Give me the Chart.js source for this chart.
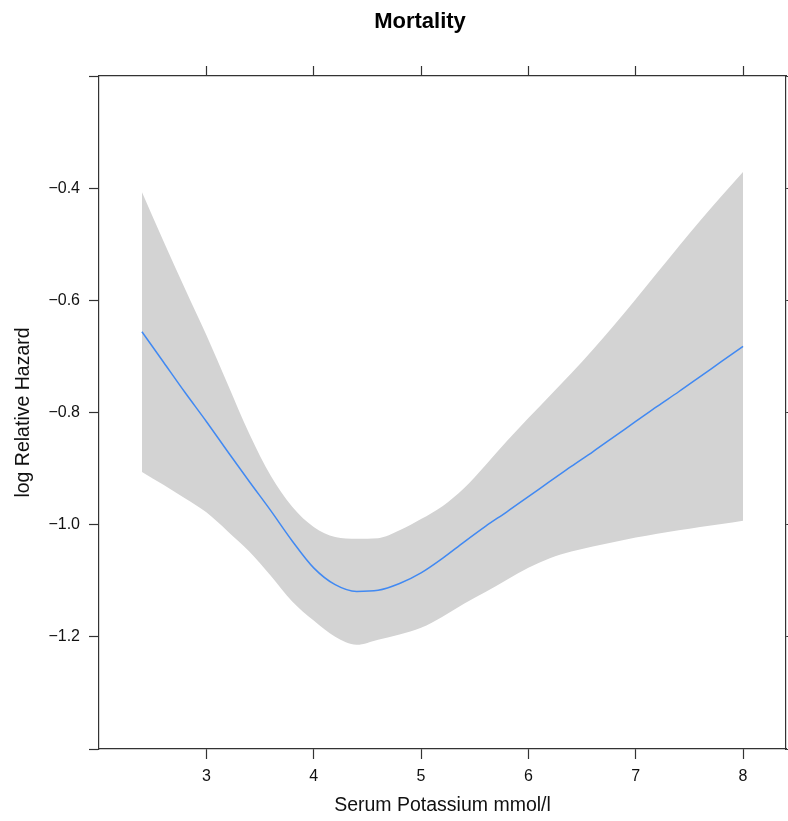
<!DOCTYPE html>
<html>
<head>
<meta charset="utf-8">
<script src="https://cdn.jsdelivr.net/npm/chart.js@4"></script>
<style>
  html, body { margin: 0; padding: 0; background: #fff; }
</style>
</head>
<body>
<canvas id="mortality" width="788" height="821"></canvas>
<script>
// values
const potassium = [2.4, 2.6, 2.8, 3.0, 3.2, 3.4, 3.6, 3.8, 4.0, 4.2, 4.4, 4.6, 4.8, 5.0,
  5.2, 5.4, 5.6, 5.8, 6.0, 6.2, 6.4, 6.6, 6.8, 7.0, 7.2, 7.4, 7.6, 7.8, 8.0];
const logHazard = [-0.656, -0.710, -0.764, -0.816, -0.870, -0.923, -0.975, -1.029, -1.077, -1.107,
  -1.119, -1.117, -1.105, -1.086, -1.060, -1.031, -1.003, -0.977, -0.950, -0.923, -0.896, -0.870,
  -0.843, -0.816, -0.789, -0.763, -0.736, -0.709, -0.682];
const lowerCI = [-0.906, -0.929, -0.953, -0.978, -1.012, -1.048, -1.091, -1.137, -1.171, -1.200,
  -1.214, -1.205, -1.196, -1.184, -1.164, -1.141, -1.120, -1.098, -1.077, -1.060, -1.048, -1.039,
  -1.031, -1.023, -1.016, -1.010, -1.004, -0.999, -0.993];
const upperCI = [-0.407, -0.494, -0.579, -0.662, -0.750, -0.838, -0.913, -0.968, -1.004, -1.022,
  -1.025, -1.024, -1.010, -0.990, -0.967, -0.935, -0.894, -0.851, -0.810, -0.770, -0.730, -0.688,
  -0.644, -0.598, -0.551, -0.504, -0.458, -0.414, -0.371];

const xTicks = [3, 4, 5, 6, 7, 8];
const yTicks = [-1.4, -1.2, -1.0, -0.8, -0.6, -0.4, -0.2];
const yTickLabels = ['', '\u22121.2', '\u22121.0', '\u22120.8', '\u22120.6', '\u22120.4', ''];

const pts = arr => potassium.map((x, i) => ({ x: x, y: arr[i] }));

const family = '"Liberation Sans", Arial, sans-serif';
const axisColor = '#333';

const tickGrid = { drawOnChartArea: false, drawTicks: true, tickLength: 10, color: axisColor, tickWidth: 1.2 };
const axisBorder = { display: true, color: axisColor, width: 1.2 };

const titlePlugin = {
  id: 'plotTitle',
  afterDraw(chart) {
    const ctx = chart.ctx;
    ctx.save();
    ctx.font = 'bold 22px ' + family;
    ctx.fillStyle = '#000';
    ctx.textAlign = 'center';
    ctx.textBaseline = 'alphabetic';
    ctx.fillText('Mortality', 420, 28);
    ctx.restore();
  }
};

new Chart(document.getElementById('mortality'), {
  type: 'line',
  data: {
    datasets: [
      {
        label: 'log Relative Hazard',
        data: pts(logHazard),
        borderColor: '#4189f2',
        borderWidth: 1.5,
        pointRadius: 0,
        fill: false,
        cubicInterpolationMode: 'monotone'
      },
      {
        label: 'lower',
        data: pts(lowerCI),
        borderWidth: 0,
        pointRadius: 0,
        fill: false,
        cubicInterpolationMode: 'monotone'
      },
      {
        label: 'upper',
        data: pts(upperCI),
        borderWidth: 0,
        pointRadius: 0,
        backgroundColor: '#d3d3d3',
        fill: '-1',
        cubicInterpolationMode: 'monotone'
      }
    ]
  },
  options: {
    responsive: false,
    animation: false,
    layout: { padding: 0 },
    plugins: {
      legend: { display: false },
      tooltip: { enabled: false }
    },
    scales: {
      x: {
        type: 'linear',
        position: 'bottom',
        min: 2.0,
        max: 8.4,
        afterBuildTicks: s => { s.ticks = xTicks.map(v => ({ value: v })); },
        afterFit: s => { s.height = 72; },
        ticks: { callback: v => String(v), font: { family: family, size: 16 }, color: '#111', padding: 8, maxRotation: 0, autoSkip: false },
        grid: tickGrid,
        border: axisBorder,
        title: { display: true, text: 'Serum Potassium mmol/l', font: { family: family, size: 19.5 }, color: '#111', padding: { top: 0, bottom: 4 } }
      },
      x2: {
        type: 'linear',
        position: 'top',
        min: 2.0,
        max: 8.4,
        afterBuildTicks: s => { s.ticks = xTicks.map(v => ({ value: v })); },
        afterFit: s => { s.height = 76; },
        ticks: { display: false },
        grid: tickGrid,
        border: axisBorder
      },
      y: {
        type: 'linear',
        position: 'left',
        min: -1.4,
        max: -0.2,
        afterBuildTicks: s => { s.ticks = yTicks.map(v => ({ value: v })); },
        afterFit: s => { s.width = 99; },
        ticks: { callback: (v, i) => yTickLabels[i], font: { family: family, size: 16 }, color: '#111', padding: 9, autoSkip: false },
        grid: tickGrid,
        border: axisBorder,
        title: { display: true, text: 'log Relative Hazard', font: { family: family, size: 19.5 }, color: '#111', padding: { top: 11.5, bottom: 0 } }
      },
      y2: {
        type: 'linear',
        position: 'right',
        min: -1.4,
        max: -0.2,
        afterBuildTicks: s => { s.ticks = yTicks.map(v => ({ value: v })); },
        afterFit: s => { s.width = 2; },
        ticks: { display: false },
        grid: tickGrid,
        border: axisBorder
      }
    }
  },
  plugins: [titlePlugin]
});
</script>
</body>
</html>
